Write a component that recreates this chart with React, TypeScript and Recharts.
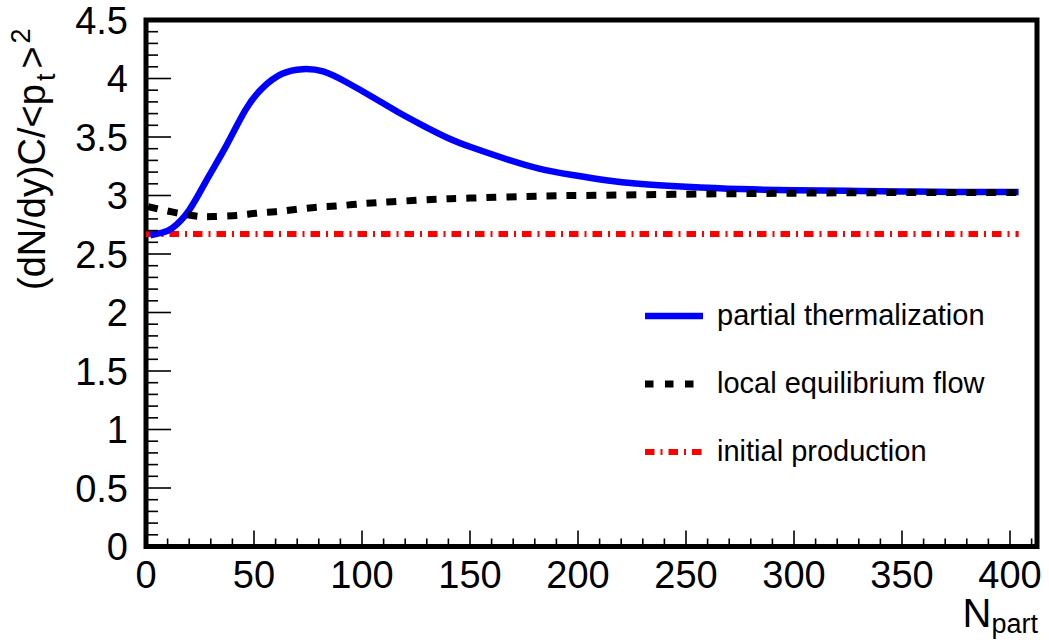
import React from "react";
import { LineChart, Line, XAxis, YAxis, ReferenceArea, Legend } from "recharts";

const FONT = '"Liberation Sans", Arial, Helvetica, sans-serif';

// partial thermalization (blue, solid)
const partialN = [2, 7, 12, 20, 28, 37, 46, 54, 63, 72.5, 82, 92.6, 105, 116, 128, 140, 151, 167, 182, 197.5, 213, 228, 250, 275, 300, 325, 350, 375, 404];
const partialVal = [2.66, 2.68, 2.72, 2.876, 3.13, 3.42, 3.73, 3.92, 4.04, 4.08, 4.06, 3.97, 3.84, 3.72, 3.6, 3.49, 3.41, 3.31, 3.23, 3.175, 3.13, 3.1, 3.075, 3.055, 3.045, 3.04, 3.035, 3.03, 3.03];

// local equilibrium flow (black, dashed)
const flowN = [1, 12, 23, 31, 42, 51, 60, 69, 79, 88, 100, 114, 136, 150, 182, 200, 244, 300, 350, 404];
const flowVal = [2.905, 2.86, 2.825, 2.82, 2.83, 2.848, 2.862, 2.88, 2.9, 2.91, 2.93, 2.947, 2.97, 2.978, 2.995, 3.0, 3.01, 3.02, 3.025, 3.025];

// initial production (red, dash-dot)
const initialN = [0, 404];
const initialVal = [2.67, 2.67];

const xMajor = [0, 50, 100, 150, 200, 250, 300, 350, 400];
const yMajor = [0, 0.5, 1, 1.5, 2, 2.5, 3, 3.5, 4, 4.5];
const xMinor = Array.from({ length: 42 }, (_, i) => i * 10);
const yMinor = Array.from({ length: 46 }, (_, i) => i / 10);

const legendItems = [
  { name: "partial thermalization", color: "#0000ff", dash: undefined as string | undefined, width: 6.5 },
  { name: "local equilibrium flow", color: "#000000", dash: "8.5 11.5", width: 7 },
  { name: "initial production", color: "#ff0000", dash: "9.5 6 2 6", width: 6 },
];

const rows = (xs: number[], ys: number[]) => xs.map((n, i) => ({ n, v: ys[i] }));

const isMajorY = (v: number) => yMajor.some((m) => Math.abs(m - v) < 1e-6);

function XTick(props: any) {
  const { x, y, payload } = props;
  const v = payload.value;
  const major = xMajor.includes(v);
  return (
    <g>
      <line x1={x} x2={x} y1={y} y2={y - (major ? 16 : 8)} stroke="#000" strokeWidth={1.6} />
      {major && (
        <text x={x} y={y + 41} textAnchor="middle" fontSize={38} fontFamily={FONT} fill="#000">
          {v}
        </text>
      )}
    </g>
  );
}

function YTick(props: any) {
  const { x, y, payload } = props;
  const v = payload.value;
  const major = isMajorY(v);
  return (
    <g>
      <line x1={x} x2={x + (major ? 25 : 12)} y1={y} y2={y} stroke="#000" strokeWidth={1.6} />
      {major && (
        <text x={x - 18} y={y} dy="0.358em" textAnchor="end" fontSize={38} fontFamily={FONT} fill="#000">
          {Math.round(v * 10) / 10}
        </text>
      )}
    </g>
  );
}

function LegendBox() {
  return (
    <svg width={400} height={190} style={{ display: "block" }}>
      {legendItems.map((it, i) => {
        const cy = 26 + i * 68;
        return (
          <g key={it.name}>
            <line x1={25} x2={83} y1={cy} y2={cy} stroke={it.color} strokeWidth={it.width} strokeDasharray={it.dash} />
            <text x={97} y={cy + 9} fontSize={29} fontFamily={FONT} fill="#000">
              {it.name}
            </text>
          </g>
        );
      })}
    </svg>
  );
}

export default function App() {
  return (
    <div style={{ position: "absolute", left: 0, top: 0, background: "#fff" }}>
      <LineChart width={1049} height={642} margin={{ top: 20, right: 12, left: 0, bottom: 0 }}>
        <XAxis
          type="number"
          dataKey="n"
          domain={[0, 412.5]}
          ticks={xMinor}
          interval={0}
          tick={<XTick />}
          tickSize={0}
          tickMargin={0}
          axisLine={false}
          tickLine={false}
          height={95.5}
          allowDuplicatedCategory={false}
        />
        <YAxis
          type="number"
          domain={[0, 4.5]}
          ticks={yMinor}
          interval={0}
          tick={<YTick />}
          tickSize={0}
          tickMargin={0}
          axisLine={false}
          tickLine={false}
          width={146}
        />
        <Line data={rows(initialN, initialVal)} dataKey="v" type="linear" stroke="#ff0000" strokeWidth={6} strokeDasharray="9.5 6 2 6" dot={false} activeDot={false} isAnimationActive={false} />
        <Line data={rows(partialN, partialVal)} dataKey="v" type="natural" stroke="#0000ff" strokeWidth={6.5} dot={false} activeDot={false} isAnimationActive={false} />
        <Line data={rows(flowN, flowVal)} dataKey="v" type="natural" stroke="#000000" strokeWidth={7} strokeDasharray="10 10" dot={false} activeDot={false} isAnimationActive={false} />
        <ReferenceArea x1={0} x2={412.5} y1={0} y2={4.5} fill="none" stroke="#000" strokeWidth={5} ifOverflow="visible" />
        <Legend
          layout="vertical"
          align="center"
          verticalAlign="middle"
          content={() => <LegendBox />}
          wrapperStyle={{ left: 620, top: 290, width: 400 }}
        />
        <text transform="rotate(-90)" x={-290} y={45} fontSize={38} fontFamily={FONT} fill="#000">
          (dN/dy)C/&lt;p
          <tspan fontSize={27} dy={10} dx={3}>t</tspan>
          <tspan fontSize={38} dy={-10} dx={5}>&gt;</tspan>
          <tspan fontSize={27} dy={-15} dx={3}>2</tspan>
        </text>
        <text x={1038} y={627} textAnchor="end" fontSize={40} fontFamily={FONT} fill="#000">
          N<tspan fontSize={27} dy={6}>part</tspan>
        </text>
      </LineChart>
    </div>
  );
}
